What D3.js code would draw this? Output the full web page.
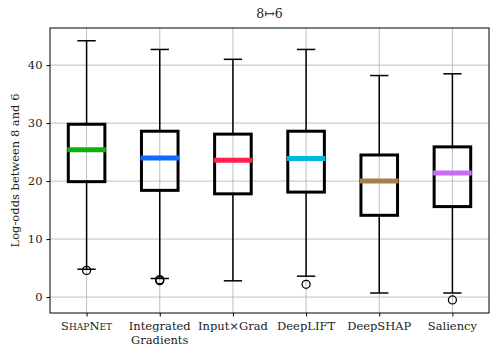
<!DOCTYPE html>
<html>
<head>
<meta charset="utf-8">
<script src="https://cdn.jsdelivr.net/npm/d3@7"></script>
<style>
  body { margin: 0; background: #fff; }
  text { font-family: "DejaVu Serif", "Liberation Serif", serif; fill: #222; }
</style>
</head>
<body>
<div class="chart"></div>
<script>
// Data
const methods = ['ShapNet', 'Integrated Gradients', 'Input×Grad', 'DeepLIFT', 'DeepSHAP', 'Saliency'];
const whiskerLow = [4.8, 3.2, 2.8, 3.6, 0.7, 0.7];
const q1 = [19.9, 18.4, 17.8, 18.1, 14.1, 15.6];
const medians = [25.4, 24.0, 23.6, 23.9, 20.0, 21.4];
const q3 = [29.8, 28.6, 28.1, 28.6, 24.5, 25.9];
const whiskerHigh = [44.2, 42.7, 41.0, 42.7, 38.2, 38.5];
const outliers = [[4.6], [3.0, 2.8], [], [2.2], [], [-0.5]];
const medianColors = ['#0bb20b', '#0a6cff', '#ff1f4f', '#00b6e3', '#a6804c', '#c86cf5'];
const yTicks = [0, 10, 20, 30, 40];

const width = 499, height = 360;
const margin = {top: 28, right: 10, bottom: 47, left: 50};

const svg = d3.select('.chart')
    .append('svg')
    .attr('width', width)
    .attr('height', height);

const x = d3.scaleLinear()
    .domain([0.5, 6.5])
    .range([margin.left, width - margin.right]);

const y = d3.scaleLinear()
    .domain([-2.75, 46.4])
    .range([height - margin.bottom, margin.top]);

// Grid
const grid = svg.append('g').attr('stroke', '#b0b0b0').attr('stroke-width', 0.8);
grid.selectAll('line.gy')
    .data(yTicks)
    .join('line')
    .attr('class', 'gy')
    .attr('x1', margin.left).attr('x2', width - margin.right)
    .attr('y1', d => y(d)).attr('y2', d => y(d));
grid.selectAll('line.gx')
    .data(d3.range(1, 7))
    .join('line')
    .attr('class', 'gx')
    .attr('x1', d => x(d)).attr('x2', d => x(d))
    .attr('y1', margin.top).attr('y2', height - margin.bottom);

// Boxes
const boxW = x(1.25) - x(1);
const data = methods.map((m, i) => ({
    i: i + 1, lo: whiskerLow[i], q1: q1[i], med: medians[i], q3: q3[i], hi: whiskerHigh[i],
    out: outliers[i], color: medianColors[i]
}));

const g = svg.append('g');
const box = g.selectAll('g.box')
    .data(data)
    .join('g')
    .attr('class', 'box');

// whiskers
box.append('line')
    .attr('x1', d => x(d.i)).attr('x2', d => x(d.i))
    .attr('y1', d => y(d.q3)).attr('y2', d => y(d.hi))
    .attr('stroke', 'black').attr('stroke-width', 1.5);
box.append('line')
    .attr('x1', d => x(d.i)).attr('x2', d => x(d.i))
    .attr('y1', d => y(d.q1)).attr('y2', d => y(d.lo))
    .attr('stroke', 'black').attr('stroke-width', 1.5);
// caps
['hi', 'lo'].forEach(k => {
    box.append('line')
        .attr('x1', d => x(d.i) - boxW / 2).attr('x2', d => x(d.i) + boxW / 2)
        .attr('y1', d => y(d[k])).attr('y2', d => y(d[k]))
        .attr('stroke', 'black').attr('stroke-width', 1.5);
});
// box
box.append('rect')
    .attr('x', d => x(d.i) - boxW)
    .attr('width', boxW * 2)
    .attr('y', d => y(d.q3))
    .attr('height', d => y(d.q1) - y(d.q3))
    .attr('fill', 'none')
    .attr('stroke', 'black')
    .attr('stroke-width', 3);
// median
box.append('line')
    .attr('x1', d => x(d.i) - boxW - 1).attr('x2', d => x(d.i) + boxW + 1)
    .attr('y1', d => y(d.med)).attr('y2', d => y(d.med))
    .attr('stroke', d => d.color).attr('stroke-width', 5);
// outliers
box.selectAll('circle')
    .data(d => d.out.map(v => ({i: d.i, v: v})))
    .join('circle')
    .attr('cx', d => x(d.i))
    .attr('cy', d => y(d.v))
    .attr('r', 4)
    .attr('fill', 'none')
    .attr('stroke', 'black')
    .attr('stroke-width', 1.3);

// Axes frame
svg.append('rect')
    .attr('x', margin.left).attr('y', margin.top)
    .attr('width', width - margin.left - margin.right)
    .attr('height', height - margin.top - margin.bottom)
    .attr('fill', 'none').attr('stroke', 'black').attr('stroke-width', 1);

// Y axis
const yAxis = svg.append('g')
    .attr('transform', `translate(${margin.left},0)`)
    .call(d3.axisLeft(y).tickValues(yTicks).tickSize(3.5).tickPadding(4));
yAxis.select('.domain').remove();
yAxis.selectAll('text').style('font-size', '11.5px').attr('fill', '#222');

// X axis
const xAxis = svg.append('g')
    .attr('transform', `translate(0,${height - margin.bottom})`)
    .call(d3.axisBottom(x).tickValues(d3.range(1, 7)).tickSize(3.5).tickFormat(''));
xAxis.select('.domain').remove();

const xl = svg.append('g').selectAll('text')
    .data(methods)
    .join('text')
    .attr('x', (d, i) => x(i + 1))
    .attr('y', height - margin.bottom + 17)
    .attr('text-anchor', 'middle')
    .style('font-size', '11.5px');
xl.each(function (d) {
    const t = d3.select(this);
    if (d === 'ShapNet') {
        t.append('tspan').text('S');
        t.append('tspan').style('font-size', '9px').text('HAP');
        t.append('tspan').text('N');
        t.append('tspan').style('font-size', '9px').text('ET');
    } else if (d === 'Integrated Gradients') {
        t.append('tspan').attr('x', t.attr('x')).text('Integrated');
        t.append('tspan').attr('x', t.attr('x')).attr('dy', 14).text('Gradients');
    } else {
        t.text(d);
    }
});

// Title
svg.append('text')
    .attr('x', (margin.left + width - margin.right) / 2)
    .attr('y', 18)
    .attr('text-anchor', 'middle')
    .style('font-size', '12.5px')
    .text('8↦6');

// Y label
svg.append('text')
    .attr('transform', `translate(19,${(margin.top + height - margin.bottom) / 2}) rotate(-90)`)
    .attr('text-anchor', 'middle')
    .style('font-size', '11.5px')
    .text('Log-odds between 8 and 6');
</script>
</body>
</html>
